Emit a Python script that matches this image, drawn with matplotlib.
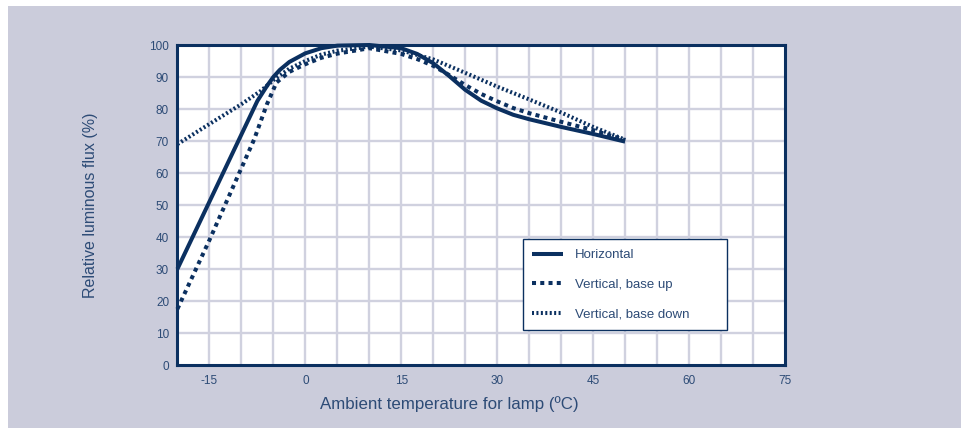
import matplotlib
matplotlib.use("Agg")
import matplotlib.pyplot as plt
from matplotlib.patches import Rectangle

plt.rcParams["axes.unicode_minus"] = False

# ---------------- data ----------------
x_horizontal = [-20, -15, -10, -7.5, -6, -5, -4, -2.5, 0, 2.5, 5, 10, 15, 17.5, 20,
                22.5, 25, 27.5, 30, 32.5, 35, 40, 45, 50]
y_horizontal = [30, 51, 72, 82.5, 87.2, 90.0, 92.2, 94.7, 97.4, 99.0, 99.8, 100, 99,
                97.2, 94.3, 90.3, 86, 82.6, 80.2, 78.2, 76.8, 74.4, 72.2, 69.8]

x_base_up = [-20, -15, -10, -8, -6, -4.5, -2.5, 0, 2.5, 5, 10, 15, 17.5, 20,
             22.5, 25, 27.5, 30, 32.5, 35, 40, 45, 50]
y_base_up = [17.5, 39, 61.5, 70.5, 81.5, 88.3, 91.6, 94, 96, 97.3, 99, 97.2, 95.6,
             93.5, 90.6, 87.5, 84.7, 82.4, 80.3, 78.7, 76, 73.4, 70.3]

x_base_down = [-20, -15, -10, -7, -5, -2.5, 0, 2.5, 5, 10, 15, 20, 25, 30, 35, 40, 45, 50]
y_base_down = [69, 75.3, 81.5, 85.6, 89, 92.6, 95, 97, 98.2, 99.5, 98.3, 95.5,
               91.3, 87, 83, 78.9, 74.4, 70.4]

series_labels = ["Horizontal", "Vertical, base up", "Vertical, base down"]
x_tick_values = [-15, 0, 15, 30, 45, 60, 75]
y_tick_values = [0, 10, 20, 30, 40, 50, 60, 70, 80, 90, 100]
x_label = "Ambient temperature for lamp (ºC)"
y_label = "Relative luminous flux (%)"

# ---------------- style ----------------
NAVY = "#0b3060"
TEXT = "#2d4b76"
PANEL = "#cbccdb"
GRID = "#d0d1df"
FONT = "Liberation Sans"

fig = plt.figure(figsize=(9.61, 4.28), dpi=100, facecolor="white")
fig.patches.append(Rectangle((8 / 961, 0), 1 - 8 / 961, 1 - 6 / 428,
                             transform=fig.transFigure, facecolor=PANEL,
                             edgecolor="none", zorder=-10))

ax = fig.add_axes([177.4 / 961, 1 - 365 / 428, (785 - 177.4) / 961, 320 / 428])
ax.set_facecolor("white")
ax.set_xlim(-20, 75)
ax.set_ylim(0, 100)

# grid
for gx in range(-15, 75, 5):
    ax.axvline(gx, color=GRID, lw=1.7, zorder=1)
for gy in range(10, 100, 10):
    ax.axhline(gy, color=GRID, lw=1.7, zorder=1)

lw = 2.9
l1, = ax.plot(x_horizontal, y_horizontal, color=NAVY, lw=lw, solid_capstyle="butt",
              solid_joinstyle="round", zorder=5, clip_on=False)
l2, = ax.plot(x_base_up, y_base_up, color=NAVY, lw=lw, dashes=(1.0, 1.05),
              dash_capstyle="butt", zorder=4, clip_on=False)
l3, = ax.plot(x_base_down, y_base_down, color=NAVY, lw=lw, dashes=(0.5, 0.6),
              dash_capstyle="butt", zorder=3, clip_on=False)

for s in ax.spines.values():
    s.set_color(NAVY)
    s.set_linewidth(2.2)
    s.set_zorder(6)

ax.set_xticks(x_tick_values)
ax.set_yticks(y_tick_values)
ax.tick_params(length=0, colors=TEXT, labelsize=8.5)
ax.tick_params(axis="y", pad=6)
ax.tick_params(axis="x", pad=7)
for t in ax.get_xticklabels() + ax.get_yticklabels():
    t.set_fontfamily(FONT)

ax.set_xlabel(x_label, color=TEXT, fontsize=12.2, family=FONT)
ax.xaxis.set_label_coords(0.448, -0.097)
ax.set_ylabel(y_label, color=TEXT, fontsize=11.5, family=FONT)
ax.yaxis.set_label_coords(-0.13, 0.5)

leg = ax.legend([l1, l2, l3], series_labels, loc="lower left",
                bbox_to_anchor=(0.568, 0.109, 0.337, 0.284), mode="expand",
                borderaxespad=0, frameon=True, fancybox=False,
                prop={"family": FONT, "size": 9.5}, handlelength=2.3,
                handletextpad=0.95, labelspacing=1.3, borderpad=0.75)
leg.get_frame().set_edgecolor(NAVY)
leg.get_frame().set_linewidth(1.0)
leg.get_frame().set_facecolor("white")
leg.get_frame().set_alpha(1)
leg.set_zorder(10)
for t in leg.get_texts():
    t.set_color(TEXT)

fig.savefig("out.png", dpi=100, facecolor="white")
